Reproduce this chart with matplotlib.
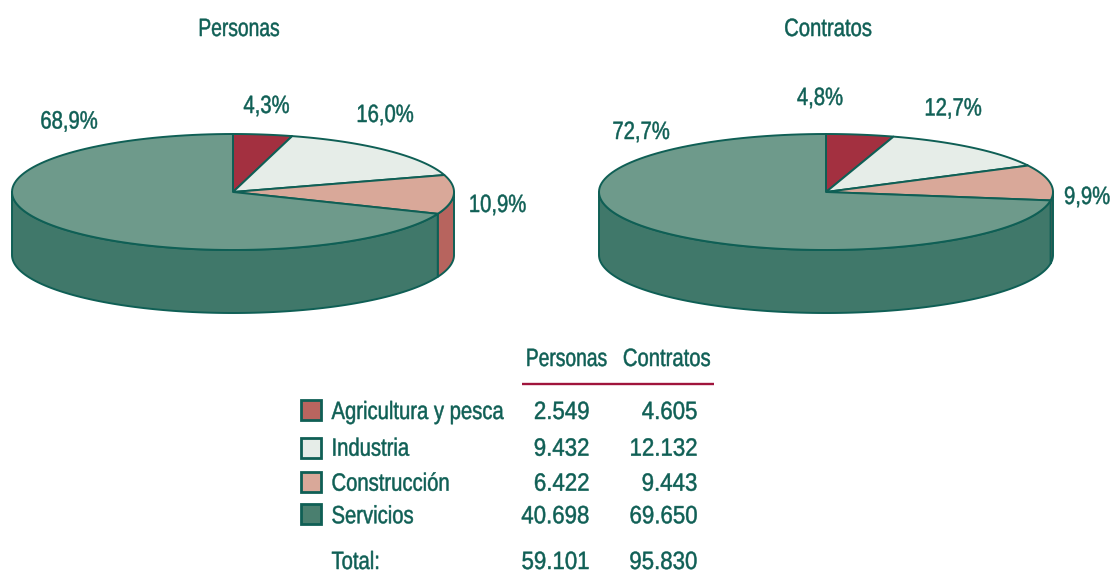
import numpy as np
import matplotlib.pyplot as plt
from matplotlib.patches import Polygon, Rectangle
from matplotlib.patheffects import AbstractPathEffect
from matplotlib.transforms import Affine2D

sectores = ['Agricultura y pesca', 'Industria', 'Construcción', 'Servicios']
personas = [2549, 9432, 6422, 40698]
contratos = [4605, 12132, 9443, 69650]
personas_pct = ['4,3%', '16,0%', '10,9%', '68,9%']
contratos_pct = ['4,8%', '12,7%', '9,9%', '72,7%']
personas_txt = ['2.549', '9.432', '6.422', '40.698']
contratos_txt = ['4.605', '12.132', '9.443', '69.650']
total_txt = ['59.101', '95.830']

top_colors = ['#A33040', '#E6EDE8', '#D9A899', '#6E9A8B']
side_colors = ['#A33040', '#E6EDE8', '#B7645E', '#40786A']
legend_colors = ['#B9655F', '#E6EDE8', '#D9A899', '#4A7F6F']
edge = '#0F5F55'
rule = '#A0143C'

plt.rcParams['font.family'] = 'Liberation Sans'

fig = plt.figure(figsize=(11.11, 5.71), dpi=100)
ax = fig.add_axes([0, 0, 1, 1])
ax.set_xlim(0, 1111)
ax.set_ylim(571, 0)
ax.axis('off')


#the reference font is condensed and none is installed, so squeeze the glyphs
class Squeeze(AbstractPathEffect):
	def __init__(self, x, k):
		super().__init__()
		self.x = x
		self.k = k

	def draw_path(self, renderer, gc, tpath, affine, rgbFace=None):
		sq = Affine2D().translate(-self.x, 0).scale(self.k, 1).translate(self.x, 0)
		gc0 = renderer.new_gc()
		gc0.copy_properties(gc)
		gc0.set_linewidth(0.35)
		gc0.set_foreground(edge)
		renderer.draw_path(gc0, tpath, affine + sq, rgbFace)
		gc0.restore()


def label(x, y, s, ha='center', k=0.81):
	t = ax.text(x, y, s, ha=ha, va='baseline', color=edge, fontsize=18)
	t.set_path_effects([Squeeze(x, k)])


def arc(cx, cy, rx, ry, a, b):
	# angles in degrees, clockwise from the top of the ellipse
	t = np.radians(np.linspace(a, b, 120))
	return np.column_stack([cx + rx*np.sin(t), cy - ry*np.cos(t)])


def pie3d(values, cx, cy, rx, ry, depth):
	frac = np.array(values) / sum(values)
	edges = np.concatenate([[0], np.cumsum(frac)]) * 360
	#walls first, only the front half of the ellipse is visible
	for i in range(len(values)):
		a = max(edges[i], 90)
		b = min(edges[i+1], 270)
		if b > a:
			upper = arc(cx, cy, rx, ry, a, b)
			lower = upper[::-1] + [0, depth]
			ax.add_patch(Polygon(np.vstack([upper, lower]), fc=side_colors[i], ec=edge, lw=1.4, joinstyle='round'))
	for i in range(len(values)):
		pts = np.vstack([[cx, cy], arc(cx, cy, rx, ry, edges[i], edges[i+1])])
		ax.add_patch(Polygon(pts, fc=top_colors[i], ec=edge, lw=1.4, joinstyle='round'))


pie3d(personas, 233, 192, 221, 58, 63)
pie3d(contratos, 826, 192, 227, 58, 63)

label(239, 36, 'Personas', k=0.77)
label(828, 36, 'Contratos')

for txt, x, y in zip(personas_pct, [266.5, 385, 497.5, 69], [113, 122, 212, 128.5]):
	label(x, y, txt)
for txt, x, y in zip(contratos_pct, [820, 953, 1087, 641], [105, 115.5, 204, 139]):
	label(x, y, txt)

label(566.5, 366, 'Personas', k=0.77)
label(666.7, 366, 'Contratos')
ax.plot([522, 714], [384, 384], color=rule, lw=1.7, solid_capstyle='butt')

swatch_y = [399.5, 437.5, 471.5, 503.5]
rows = [419, 455.7, 490.7, 523.3]
for i, y in enumerate(rows):
	ax.add_patch(Rectangle((301, swatch_y[i]), 20, 20, fc=legend_colors[i], ec=edge, lw=2))
	label(331.5, y, sectores[i], ha='left')
	label(589.5, y, personas_txt[i], ha='right', k=0.89)
	label(697.5, y, contratos_txt[i], ha='right', k=0.89)
label(331.5, 569, 'Total:', ha='left')
label(589.5, 569, total_txt[0], ha='right', k=0.89)
label(697.5, 569, total_txt[1], ha='right', k=0.89)

fig.savefig('out.png', dpi=100)
